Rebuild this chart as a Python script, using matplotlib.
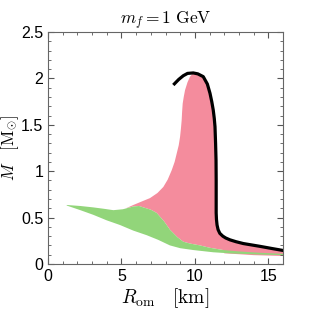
import numpy as np
import matplotlib.pyplot as plt

plt.rcParams['mathtext.fontset'] = 'cm'
plt.rcParams['font.family'] = ['Liberation Sans', 'DejaVu Sans']

# black M-R curve (R in km, M in solar masses)
curve_R = [8.53, 8.9, 9.21, 9.5, 9.89, 10.2, 10.57, 10.85, 11.03, 11.15, 11.25, 11.32, 11.37, 11.41, 11.44,
           11.45, 11.45, 11.45, 11.47, 11.51, 11.58, 11.7, 11.9, 12.1, 12.39, 12.8, 13.3, 14.43, 15.3, 16.2]
curve_M = [1.93, 1.99, 2.03, 2.055, 2.06, 2.05, 2.02, 1.94, 1.84, 1.75, 1.66, 1.57, 1.48, 1.3, 1.12,
           0.9, 0.7, 0.55, 0.48, 0.42, 0.37, 0.33, 0.30, 0.28, 0.26, 0.24, 0.22, 0.19, 0.165, 0.14]

# left edge of the pink region (bottom to the peak)
pink_left_R = [5.3, 5.81, 6.4, 6.94, 7.45, 7.85, 8.15, 8.42, 8.62, 8.76, 8.9, 8.99, 9.05, 9.1, 9.13, 9.17,
               9.24, 9.33, 9.5, 9.67, 9.89]
pink_left_M = [0.60, 0.636, 0.675, 0.71, 0.765, 0.83, 0.91, 1.01, 1.1, 1.19, 1.28, 1.37, 1.46, 1.55, 1.64,
               1.73, 1.80, 1.875, 1.96, 2.02, 2.06]

# lower edge of pink below the green band at large radius
pink_low_R = [16.2, 14.0, 12.0]
pink_low_M = [0.085, 0.095, 0.115]

# green band: upper and lower edges
green_top_R = [1.27, 2.2, 3.08, 3.8, 4.45, 5.1, 5.81, 6.2, 6.49, 7.0, 7.4, 7.9, 8.3, 8.8, 9.21, 9.67,
               10.35, 11.0, 11.94, 13.0, 14.5, 16.2]
green_top_M = [0.636, 0.625, 0.61, 0.595, 0.58, 0.59, 0.62, 0.625, 0.61, 0.585, 0.55, 0.46, 0.37, 0.29,
               0.24, 0.22, 0.20, 0.175, 0.15, 0.135, 0.12, 0.108]
green_bot_R = [1.27, 2.2, 3.08, 4.0, 4.9, 5.8, 6.72, 7.5, 8.3, 9.0, 9.89, 11.25, 12.5, 13.5, 14.7, 16.2]
green_bot_M = [0.63, 0.58, 0.53, 0.47, 0.42, 0.36, 0.31, 0.26, 0.20, 0.17, 0.15, 0.126, 0.113, 0.107,
               0.10, 0.095]

fig = plt.figure(figsize=(3.12, 3.12), dpi=100)
ax = fig.add_axes([0.154, 0.154, 0.753, 0.743])

# pink region: left edge up, black curve down, lower edge, then back along the green top
top_i = curve_R.index(9.89)
gt = [(r, m) for r, m in zip(green_top_R, green_top_M) if pink_left_R[0] <= r < pink_low_R[-1]]
pk_R = pink_left_R + curve_R[top_i + 1:] + pink_low_R + [p[0] for p in gt[::-1]]
pk_M = pink_left_M + curve_M[top_i + 1:] + pink_low_M + [p[1] for p in gt[::-1]]
ax.fill(pk_R, pk_M, color='#f48c9d', lw=0)

gr_R = green_top_R + green_bot_R[::-1]
gr_M = green_top_M + green_bot_M[::-1]
ax.fill(gr_R, gr_M, color='#92d57a', lw=0)

ax.plot(curve_R, curve_M, color='black', lw=2.3, solid_capstyle='butt', solid_joinstyle='round')

ax.set_xlim(0, 16)
ax.set_ylim(0, 2.5)
ax.set_xticks([0, 5, 10, 15])
ax.set_yticks([0, 0.5, 1, 1.5, 2, 2.5])
ax.set_yticklabels(['0', '0.5', '1', '1.5', '2', '2.5'])
ax.set_xticks(np.arange(0, 17, 1), minor=True)
ax.set_yticks(np.arange(0, 2.55, 0.1), minor=True)
ax.tick_params(which='both', direction='in', top=True, right=True, labelsize=11.5, color='#555555')
ax.tick_params(which='major', length=4)
ax.tick_params(which='minor', length=2)
for s in ax.spines.values():
    s.set_color('#666666')
    s.set_linewidth(0.8)

ax.set_xlabel(r'$R_{\rm om}\quad [{\rm km}]$', fontsize=14, labelpad=2)
ax.set_ylabel(r'$M\quad [{\rm M}_{\odot}]$', fontsize=12)
ax.yaxis.set_label_coords(-0.115, 0.5)
ax.set_title(r'$m_f = 1\ {\rm GeV}$', fontsize=12.5, pad=4)

fig.savefig('out.png', dpi=100)
